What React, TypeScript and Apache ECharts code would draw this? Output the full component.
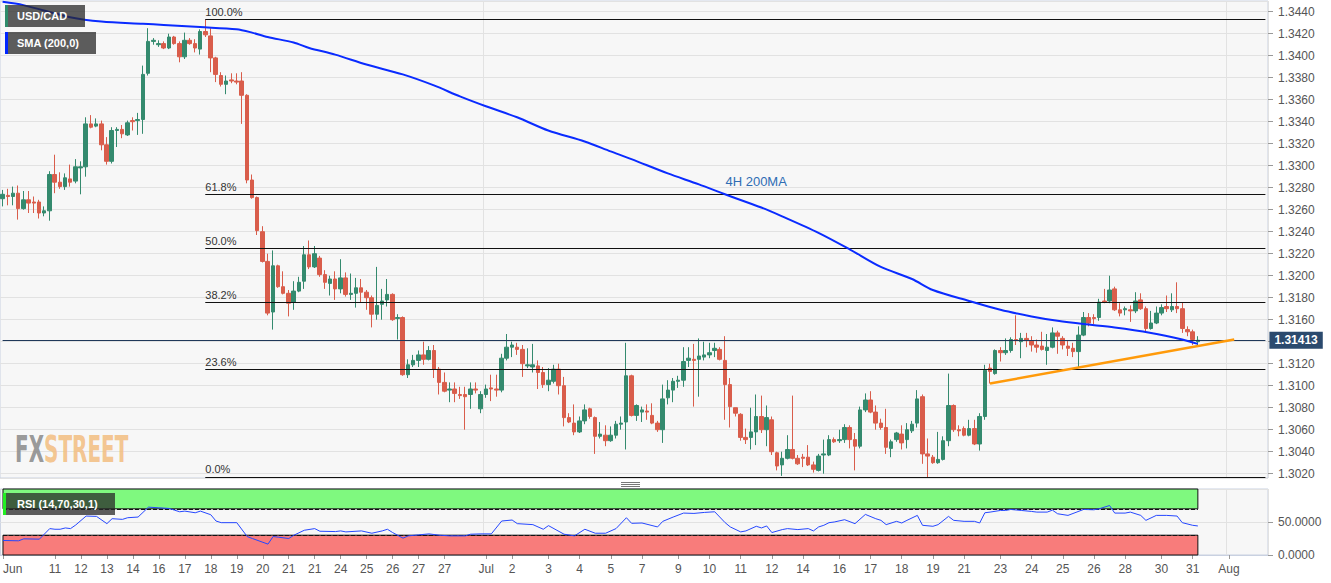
import React, { useEffect, useRef } from 'react';
import * as echarts from 'echarts';

// ---- price data (4H candles, USD/CAD) ----
const opens = [
  1.3270,1.3273,1.3272,1.3275,1.3261,1.3269,1.3267,1.3267,1.3257,1.3259,
  1.3292,1.3285,1.3281,1.3288,1.3286,1.3298,1.3299,1.3338,1.3336,1.3338,
  1.3319,1.3304,1.3332,1.3333,1.3328,1.3341,1.3341,1.3342,1.3384,1.3413,
  1.3410,1.3411,1.3407,1.3417,1.3411,1.3399,1.3414,1.3411,1.3406,1.3422,
  1.3418,1.3398,1.3382,1.3374,1.3378,1.3377,1.3377,1.3364,1.3287,1.3271,
  1.3240,1.3213,1.3167,1.3209,1.3190,1.3184,1.3176,1.3186,1.3195,1.3219,
  1.3208,1.3216,1.3201,1.3193,1.3197,1.3188,1.3198,1.3183,1.3184,1.3189,
  1.3185,1.3180,1.3165,1.3174,1.3178,1.3183,1.3161,1.3162,1.3110,1.3119,
  1.3123,1.3128,1.3124,1.3132,1.3115,1.3103,1.3096,1.3097,1.3092,1.3092,
  1.3092,1.3097,1.3079,1.3092,1.3098,1.3097,1.3096,1.3125,1.3135,1.3135,
  1.3133,1.3118,1.3117,1.3118,1.3112,1.3101,1.3104,1.3115,1.3100,1.3071,
  1.3066,1.3058,1.3068,1.3079,1.3071,1.3054,1.3055,1.3050,1.3055,1.3065,
  1.3067,1.3109,1.3073,1.3076,1.3077,1.3073,1.3066,1.3060,1.3089,1.3096,
  1.3104,1.3105,1.3123,1.3124,1.3124,1.3126,1.3128,1.3132,1.3133,1.3123,
  1.3101,1.3080,1.3074,1.3053,1.3053,1.3058,1.3072,1.3060,1.3069,1.3039,
  1.3028,1.3034,1.3042,1.3034,1.3035,1.3035,1.3028,1.3023,1.3037,1.3037,
  1.3051,1.3050,1.3051,1.3062,1.3051,1.3045,1.3078,1.3087,1.3076,1.3066,
  1.3062,1.3043,1.3051,1.3056,1.3051,1.3059,1.3066,1.3090,1.3038,1.3035,
  1.3030,1.3033,1.3050,1.3082,1.3060,1.3061,1.3055,1.3061,1.3047,1.3072,
  1.3116,1.3111,1.3132,1.3130,1.3132,1.3142,1.3140,1.3143,1.3141,1.3137,
  1.3136,1.3132,1.3135,1.3148,1.3143,1.3136,1.3134,1.3131,1.3146,1.3162,
  1.3162,1.3162,1.3177,1.3177,1.3188,1.3169,1.3169,1.3169,1.3168,1.3178,
  1.3170,1.3152,1.3157,1.3166,1.3172,1.3169,1.3172,1.3170,1.3151,1.3149,
  1.3140
];
const closes = [
  1.3274,1.3272,1.3275,1.3261,1.3269,1.3266,1.3266,1.3257,1.3259,1.3292,
  1.3285,1.3281,1.3289,1.3285,1.3299,1.3299,1.3338,1.3335,1.3338,1.3319,
  1.3304,1.3332,1.3333,1.3329,1.3339,1.3340,1.3342,1.3383,1.3413,1.3414,
  1.3411,1.3407,1.3417,1.3411,1.3399,1.3414,1.3411,1.3407,1.3422,1.3419,
  1.3398,1.3383,1.3374,1.3377,1.3377,1.3376,1.3364,1.3287,1.3271,1.3241,
  1.3213,1.3166,1.3209,1.3190,1.3184,1.3175,1.3186,1.3194,1.3219,1.3208,
  1.3220,1.3201,1.3194,1.3197,1.3188,1.3198,1.3183,1.3184,1.3189,1.3185,
  1.3180,1.3165,1.3173,1.3177,1.3183,1.3160,1.3162,1.3110,1.3119,1.3123,
  1.3128,1.3124,1.3132,1.3115,1.3103,1.3095,1.3097,1.3093,1.3091,1.3090,
  1.3097,1.3096,1.3092,1.3097,1.3097,1.3096,1.3125,1.3135,1.3137,1.3133,
  1.3120,1.3119,1.3119,1.3112,1.3101,1.3105,1.3115,1.3100,1.3071,1.3067,
  1.3058,1.3068,1.3078,1.3072,1.3054,1.3056,1.3050,1.3055,1.3065,1.3066,
  1.3109,1.3073,1.3082,1.3078,1.3076,1.3066,1.3060,1.3088,1.3096,1.3104,
  1.3105,1.3122,1.3125,1.3123,1.3127,1.3128,1.3130,1.3134,1.3124,1.3101,
  1.3081,1.3075,1.3053,1.3051,1.3058,1.3072,1.3060,1.3071,1.3040,1.3027,
  1.3034,1.3042,1.3034,1.3029,1.3034,1.3028,1.3024,1.3036,1.3038,1.3051,
  1.3049,1.3051,1.3062,1.3051,1.3045,1.3078,1.3087,1.3076,1.3066,1.3062,
  1.3044,1.3049,1.3057,1.3048,1.3060,1.3065,1.3088,1.3038,1.3036,1.3030,
  1.3033,1.3050,1.3082,1.3060,1.3059,1.3055,1.3061,1.3047,1.3072,1.3114,
  1.3113,1.3132,1.3130,1.3132,1.3142,1.3141,1.3143,1.3141,1.3137,1.3135,
  1.3133,1.3135,1.3148,1.3145,1.3137,1.3134,1.3131,1.3146,1.3162,1.3157,
  1.3161,1.3176,1.3176,1.3187,1.3169,1.3166,1.3170,1.3168,1.3177,1.3170,
  1.3152,1.3157,1.3166,1.3171,1.3170,1.3172,1.3170,1.3152,1.3149,1.3142,
  1.31413
];
const lows = [
  1.3263,1.3264,1.3264,1.3251,1.3260,1.3257,1.3257,1.3252,1.3254,1.3250,
  1.3275,1.3279,1.3278,1.3281,1.3284,1.3274,1.3290,1.3334,1.3335,1.3314,
  1.3301,1.3302,1.3317,1.3325,1.3327,1.3332,1.3328,1.3329,1.3382,1.3410,
  1.3408,1.3406,1.3406,1.3410,1.3394,1.3397,1.3410,1.3403,1.3401,1.3417,
  1.3385,1.3376,1.3372,1.3365,1.3375,1.3374,1.3338,1.3284,1.3270,1.3237,
  1.3212,1.3164,1.3151,1.3189,1.3183,1.3163,1.3169,1.3185,1.3188,1.3206,
  1.3207,1.3199,1.3188,1.3182,1.3178,1.3184,1.3181,1.3178,1.3171,1.3176,
  1.3169,1.3153,1.3160,1.3160,1.3172,1.3159,1.3142,1.3109,1.3107,1.3117,
  1.3117,1.3119,1.3123,1.3107,1.3092,1.3094,1.3085,1.3085,1.3088,1.3060,
  1.3079,1.3093,1.3075,1.3089,1.3086,1.3090,1.3094,1.3123,1.3126,1.3128,
  1.3108,1.3116,1.3112,1.3097,1.3098,1.3095,1.3102,1.3092,1.3063,1.3066,
  1.3055,1.3057,1.3065,1.3070,1.3038,1.3052,1.3045,1.3049,1.3052,1.3060,
  1.3042,1.3072,1.3068,1.3067,1.3069,1.3065,1.3058,1.3048,1.3083,1.3085,
  1.3098,1.3099,1.3117,1.3081,1.3090,1.3123,1.3125,1.3126,1.3123,1.3069,
  1.3062,1.3072,1.3050,1.3047,1.3042,1.3046,1.3057,1.3045,1.3037,1.3023,
  1.3018,1.3033,1.3033,1.3028,1.3026,1.3027,1.3021,1.3022,1.3020,1.3036,
  1.3048,1.3048,1.3048,1.3043,1.3023,1.3043,1.3076,1.3075,1.3060,1.3060,
  1.3038,1.3035,1.3049,1.3042,1.3043,1.3057,1.3062,1.3029,1.3017,1.3029,
  1.3029,1.3032,1.3045,1.3058,1.3054,1.3054,1.3054,1.3046,1.3041,1.3069,
  1.3102,1.3110,1.3122,1.3128,1.3130,1.3137,1.3125,1.3135,1.3131,1.3130,
  1.3132,1.3119,1.3134,1.3129,1.3133,1.3127,1.3126,1.3117,1.3145,1.3154,
  1.3156,1.3159,1.3175,1.3175,1.3168,1.3163,1.3164,1.3158,1.3166,1.3169,
  1.3148,1.3151,1.3156,1.3164,1.3167,1.3167,1.3166,1.3148,1.3145,1.3137,
  1.3137
];
const highs = [
  1.3278,1.3279,1.3281,1.3282,1.3277,1.3277,1.3272,1.3269,1.3263,1.3295,
  1.3310,1.3294,1.3293,1.3301,1.3306,1.3304,1.3344,1.3346,1.3343,1.3341,
  1.3326,1.3335,1.3335,1.3337,1.3341,1.3344,1.3348,1.3391,1.3425,1.3416,
  1.3414,1.3413,1.3420,1.3418,1.3413,1.3421,1.3416,1.3415,1.3424,1.3433,
  1.3425,1.3399,1.3385,1.3382,1.3384,1.3384,1.3385,1.3365,1.3292,1.3272,
  1.3245,1.3220,1.3223,1.3210,1.3204,1.3187,1.3195,1.3199,1.3227,1.3232,
  1.3227,1.3218,1.3205,1.3200,1.3204,1.3215,1.3203,1.3202,1.3198,1.3197,
  1.3187,1.3182,1.3208,1.3188,1.3197,1.3184,1.3165,1.3163,1.3124,1.3128,
  1.3132,1.3140,1.3136,1.3137,1.3117,1.3112,1.3103,1.3103,1.3099,1.3099,
  1.3103,1.3103,1.3095,1.3101,1.3110,1.3110,1.3129,1.3147,1.3140,1.3139,
  1.3137,1.3134,1.3138,1.3123,1.3117,1.3116,1.3119,1.3120,1.3108,1.3075,
  1.3083,1.3072,1.3083,1.3080,1.3072,1.3067,1.3064,1.3063,1.3068,1.3072,
  1.3139,1.3110,1.3083,1.3081,1.3083,1.3084,1.3068,1.3101,1.3105,1.3107,
  1.3109,1.3135,1.3135,1.3138,1.3143,1.3140,1.3139,1.3139,1.3135,1.3145,
  1.3107,1.3080,1.3075,1.3061,1.3080,1.3092,1.3091,1.3082,1.3072,1.3040,
  1.3040,1.3055,1.3091,1.3037,1.3038,1.3046,1.3031,1.3038,1.3051,1.3055,
  1.3053,1.3060,1.3065,1.3064,1.3057,1.3081,1.3093,1.3095,1.3082,1.3070,
  1.3079,1.3051,1.3058,1.3064,1.3066,1.3068,1.3096,1.3092,1.3052,1.3037,
  1.3058,1.3054,1.3111,1.3083,1.3064,1.3063,1.3069,1.3069,1.3075,1.3119,
  1.3120,1.3133,1.3135,1.3143,1.3144,1.3164,1.3148,1.3148,1.3145,1.3142,
  1.3149,1.3147,1.3153,1.3150,1.3145,1.3141,1.3139,1.3154,1.3167,1.3166,
  1.3165,1.3179,1.3188,1.3200,1.3190,1.3175,1.3172,1.3173,1.3185,1.3184,
  1.3172,1.3168,1.3172,1.3174,1.3182,1.3184,1.3194,1.3176,1.3154,1.3151,
  1.3145
];

// 200-period SMA: [candle index, value]
const smaPts = [
  [0,1.3449],[4,1.3446],[13,1.3435],[19,1.3431],[27,1.3429],[31,1.3428],[38,1.3426],
  [45,1.3424],[48,1.3421],[51,1.3417],[56,1.3412],[59,1.3407],[64,1.3401],[70,1.3392],
  [77,1.3383],[83,1.3373],[88,1.3363],[93,1.3354],[99,1.3344],[105,1.3332],[112,1.3322],
  [117,1.3313],[121,1.3306],[128,1.3293],[134,1.3283],[139,1.3274],[146,1.3262],[150,1.3254],
  [157,1.3239],[163,1.3224],[169,1.3208],[175,1.3197],[179,1.3187],[186,1.3177],[192,1.3169],
  [198,1.3163],[203,1.3159],[208,1.3156],[214,1.3153],[221,1.3148],[227,1.3142],[230,1.3138]
];

// RSI(14): [candle index, value]
const rsiPts = [
  [0,22],[3,21.5],[4,24.5],[7,24],[9,40],[10,39],[11,39],[12,41],[13,40],[14,45.5],[16,59],
  [18,58.5],[20,47.5],[21,55],[23,54],[24,56.5],[26,57.5],[28,72.5],[30,71.5],[32,70.5],
  [33,68],[34,65.5],[35,66.5],[37,64],[38,66.5],[40,61],[41,51.5],[42,49],[45,49],[47,28],
  [48,25],[51,16.5],[52,28],[53,27],[55,25],[56,30],[58,37.5],[60,40],[61,36],[64,35.5],
  [65,36.5],[66,35],[69,36.5],[71,33],[73,36.5],[74,39],[75,34],[77,25.5],[78,29],[80,30.5],
  [82,32],[84,30],[86,29],[89,29],[90,31.5],[92,32],[94,32],[96,51.5],[98,53],[99,47.5],
  [102,46],[104,39],[105,44.5],[108,31.5],[110,29],[112,39],[114,33],[116,33],[118,40],
  [120,56.5],[121,48],[123,48.5],[126,42.5],[127,51],[129,57.5],[131,63.5],[133,63],
  [135,64.5],[137,65.5],[139,49],[140,42.5],[142,35],[143,36.5],[145,43.5],[146,41],[147,44],
  [148,34],[150,38.5],[151,40],[153,38.5],[155,40],[156,36.5],[157,42.5],[158,45],[159,49],
  [160,50],[162,53.5],[164,47.5],[166,61.5],[168,55],[169,52.5],[170,46],[172,51],[173,48.5],
  [174,52.5],[176,60],[177,45],[179,43.5],[180,46],[182,58.5],[183,52.5],[185,51],[187,51],
  [188,48.5],[189,64],[190,65],[192,67.5],[193,67.5],[194,69],[196,67.5],[198,66],[199,65],
  [201,65],[202,68],[203,62.5],[205,60],[208,69],[210,68.5],[211,70],[213,75],[214,63.5],
  [216,63.5],[217,65],[219,60],[220,52.5],[222,60],[224,60],[226,59],[227,49],[229,45],[230,44]
];

// x-axis tick labels: candle index and text
const tickIdx = [0,10,15,20,25,30,35,40,45,50,55,60,65,70,75,80,85,93,98,105,111,117,123,130,136,142,148,154,161,167,173,179,185,192,198,204,210,216,223,229,236];
const tickText = ['Jun','11','12','13','14','16','17','18','19','20','21','21','24','25','26','27','27','Jul','2','3','4','5','7','9','10','11','12','14','16','17','18','19','21','23','24','25','26','28','30','31','Aug'];

const fibLevels = [1.3433, 1.3274, 1.3225, 1.3176, 1.3115, 1.3017];
const fibLabels = ['100.0%', '61.8%', '50.0%', '38.2%', '23.6%', '0.0%'];
const fibStartIdx = 39;
const lastPrice = 1.31413;
const hiddenPriceTick = '1.3140'; // covered by the last-price tag in the original
const trendLine = [[190, 1.3102], [237, 1.3142]];
const maLabelPoint = [139, 1.3286];
const monthIdx = [93, 236];
const CAT_COUNT = 244;

const FONT = '"Liberation Sans", Arial, sans-serif';

export default function App() {
  const ref = useRef<HTMLDivElement>(null);

  useEffect(() => {
    if (!ref.current) return;
    const chart = echarts.init(ref.current, undefined, { renderer: 'svg' });

    const cats = Array.from({ length: CAT_COUNT }, (_, i) => String(i));
    const tickMap = new Map<number, string>();
    tickIdx.forEach((t, k) => tickMap.set(t, tickText[k]));
    const candles = opens.map((o, i) => [o, closes[i], lows[i], highs[i]]);
    const lastIdx = opens.length - 1;

    const fibItems: any[] = fibLevels.map((lvl, k) => [
      {
        coord: [fibStartIdx, lvl],
        lineStyle: { color: '#111', width: 1, type: 'solid' },
        label: {
          show: true,
          position: 'insideStartTop',
          formatter: fibLabels[k],
          color: '#333',
          fontSize: 11,
          fontFamily: FONT,
          distance: [0, 2],
        },
      },
      { coord: [CAT_COUNT - 1, lvl] },
    ]);

    const monthSplit = (i: number) => monthIdx.includes(i);

    const option: any = {
      animation: false,
      backgroundColor: '#ffffff',
      textStyle: { fontFamily: FONT },
      grid: [
        { left: -1.6, right: 63, top: 1, height: 477, show: true, backgroundColor: '#f7f7f7', borderColor: '#c9d1e1', borderWidth: 1 },
        { left: -1.6, right: 63, top: 489, height: 66, show: true, backgroundColor: '#f7f7f7', borderColor: '#c9d1e1', borderWidth: 1 },
      ],
      xAxis: [
        {
          type: 'category', gridIndex: 0, data: cats, boundaryGap: true,
          axisLine: { show: false }, axisTick: { show: false }, axisLabel: { show: false },
          splitLine: { show: true, interval: monthSplit, lineStyle: { color: '#e2e2e2', width: 1 } },
        },
        {
          type: 'category', gridIndex: 1, data: cats, boundaryGap: true,
          axisLine: { show: true, lineStyle: { color: '#c9d1e1' } },
          axisTick: { show: true, interval: (i: number) => tickMap.has(i), alignWithLabel: true, length: 4, lineStyle: { color: '#999' } },
          axisLabel: {
            show: true,
            interval: (i: number) => tickMap.has(i),
            formatter: (v: string) => tickMap.get(Number(v)) ?? '',
            color: '#555', fontSize: 12, margin: 8, fontFamily: FONT,
            alignMinLabel: 'left',
          },
          splitLine: { show: true, interval: monthSplit, lineStyle: { color: '#e2e2e2', width: 1 } },
        },
      ],
      yAxis: [
        {
          type: 'value', gridIndex: 0, position: 'right',
          min: 1.301609, max: 1.344973, splitNumber: 21, minInterval: 0.002, maxInterval: 0.002,
          axisLine: { show: false },
          axisTick: { show: true, length: 5, lineStyle: { color: '#999' } },
          axisLabel: {
            color: '#555', fontSize: 12, margin: 10, fontFamily: FONT, showMinLabel: false, showMaxLabel: false,
            formatter: (v: number) => (v.toFixed(4) === hiddenPriceTick ? '' : v.toFixed(4)),
          },
          splitLine: { show: true, lineStyle: { color: '#e2e2e2', width: 1 } },
        },
        {
          type: 'value', gridIndex: 1, position: 'right', min: 0, max: 100, interval: 50,
          axisLine: { show: false },
          axisTick: { show: true, length: 5, lineStyle: { color: '#999' } },
          axisLabel: { color: '#555', fontSize: 12, margin: 10, fontFamily: FONT, showMaxLabel: false, formatter: (v: number) => (v === 0 || v === 50 ? v.toFixed(4) : '') },
          splitLine: { show: true, lineStyle: { color: '#e2e2e2', width: 1 } },
        },
      ],
      series: [
        {
          type: 'candlestick', name: 'USD/CAD', xAxisIndex: 0, yAxisIndex: 0,
          data: candles, barWidth: 4,
          itemStyle: { color: '#348a6e', color0: '#d95d4b', borderColor: '#348a6e', borderColor0: '#d95d4b', borderWidth: 1 },
          markLine: {
            silent: true, symbol: ['none', 'none'], animation: false,
            data: fibItems,
          },
        },
        {
          type: 'line', name: 'SMA (200,0)', xAxisIndex: 0, yAxisIndex: 0,
          data: smaPts, smooth: 0.3, showSymbol: false, symbol: 'none',
          lineStyle: { color: '#0a2bff', width: 2 },
          z: 5,
          markPoint: {
            silent: true, symbol: 'circle', symbolSize: 1, itemStyle: { color: 'rgba(0,0,0,0)' },
            data: [{
              coord: maLabelPoint,
              label: { show: true, position: 'right', distance: 0, formatter: '4H 200MA', color: '#2f6db4', fontSize: 13, fontFamily: FONT },
            }],
          },
        },
        {
          type: 'line', name: 'trend', xAxisIndex: 0, yAxisIndex: 0,
          data: trendLine, showSymbol: false, symbol: 'none',
          lineStyle: { color: '#ff9a0a', width: 2.5 }, z: 6,
          markLine: {
            silent: true, symbol: ['none', 'none'], animation: false,
            data: [
              [
                {
                  coord: [0, lastPrice],
                  lineStyle: { color: '#1f3859', width: 1, type: 'solid' },
                  label: {
                    show: true, position: 'end', formatter: lastPrice.toFixed(5),
                    backgroundColor: '#2b4a6e', color: '#fff', fontWeight: 'bold', fontSize: 12,
                    fontFamily: FONT, padding: [3, 5, 2, 5], distance: 4,
                  },
                },
                { coord: [CAT_COUNT - 1, lastPrice] },
              ],
            ],
          },
        },
        {
          type: 'line', name: 'RSI', xAxisIndex: 1, yAxisIndex: 1,
          data: rsiPts, showSymbol: false, symbol: 'none',
          lineStyle: { color: '#2547ff', width: 1 }, z: 5,
          markArea: {
            silent: true,
            data: [
              [{ xAxis: 0, yAxis: 70, itemStyle: { color: '#7ff97f', borderColor: '#111', borderWidth: 1 } }, { xAxis: lastIdx, yAxis: 100 }],
              [{ xAxis: 0, yAxis: 0, itemStyle: { color: '#f87c7b', borderColor: '#111', borderWidth: 1 } }, { xAxis: lastIdx, yAxis: 30 }],
            ],
          },
          markLine: {
            silent: true, symbol: ['none', 'none'], label: { show: false },
            lineStyle: { color: '#111', width: 1, type: 'dashed' },
            data: [
              [{ coord: [0, 70] }, { coord: [lastIdx, 70] }],
              [{ coord: [0, 30] }, { coord: [lastIdx, 30] }],
            ],
          },
        },
      ],
      graphic: [
        {
          type: 'text', x: 15, y: 430, scaleX: 0.54, z: 1, silent: true,
          style: {
            text: '{a|FX}{b|STREET}',
            rich: {
              a: { fill: '#8d8d8d', fontSize: 37, fontWeight: 'bold', fontFamily: '"DejaVu Sans", sans-serif' },
              b: { fill: '#f3bf84', fontSize: 37, fontWeight: 'bold', fontFamily: '"DejaVu Sans", sans-serif' },
            },
            opacity: 0.9,
          },
        },
        { type: 'rect', shape: { x: 5, y: 5, width: 80, height: 22 }, style: { fill: 'rgba(40,40,40,0.75)' }, z: 100 },
        { type: 'rect', shape: { x: 5, y: 5, width: 3, height: 22 }, style: { fill: '#2e8b6a' }, z: 101 },
        { type: 'text', x: 17, y: 16, z: 101, style: { text: 'USD/CAD', fill: '#fff', font: 'bold 11px "Liberation Sans", Arial, sans-serif', verticalAlign: 'middle' } },
        { type: 'rect', shape: { x: 5, y: 32, width: 91, height: 22 }, style: { fill: 'rgba(40,40,40,0.75)' }, z: 100 },
        { type: 'rect', shape: { x: 5, y: 32, width: 3, height: 22 }, style: { fill: '#0026ff' }, z: 101 },
        { type: 'text', x: 17, y: 43, z: 101, style: { text: 'SMA (200,0)', fill: '#fff', font: 'bold 11px "Liberation Sans", Arial, sans-serif', verticalAlign: 'middle' } },
        { type: 'rect', shape: { x: 3, y: 493, width: 112, height: 22 }, style: { fill: 'rgba(40,40,40,0.75)' }, z: 100 },
        { type: 'rect', shape: { x: 3, y: 493, width: 3, height: 22 }, style: { fill: '#22ee22' }, z: 101 },
        { type: 'text', x: 17, y: 504, z: 101, style: { text: 'RSI (14,70,30,1)', fill: '#fff', font: 'bold 11px "Liberation Sans", Arial, sans-serif', verticalAlign: 'middle' } },
        { type: 'line', shape: { x1: 621, y1: 482.5, x2: 640, y2: 482.5 }, style: { stroke: '#777', lineWidth: 1 }, z: 100 },
        { type: 'line', shape: { x1: 621, y1: 484.5, x2: 640, y2: 484.5 }, style: { stroke: '#777', lineWidth: 1 }, z: 100 },
        { type: 'line', shape: { x1: 621, y1: 486.5, x2: 640, y2: 486.5 }, style: { stroke: '#777', lineWidth: 1 }, z: 100 },
      ],
    };

    chart.setOption(option);
    return () => chart.dispose();
  }, []);

  return (
    <div
      ref={ref}
      style={{ position: 'fixed', left: 0, top: 0, width: 1331, height: 583, background: '#fff' }}
    />
  );
}
